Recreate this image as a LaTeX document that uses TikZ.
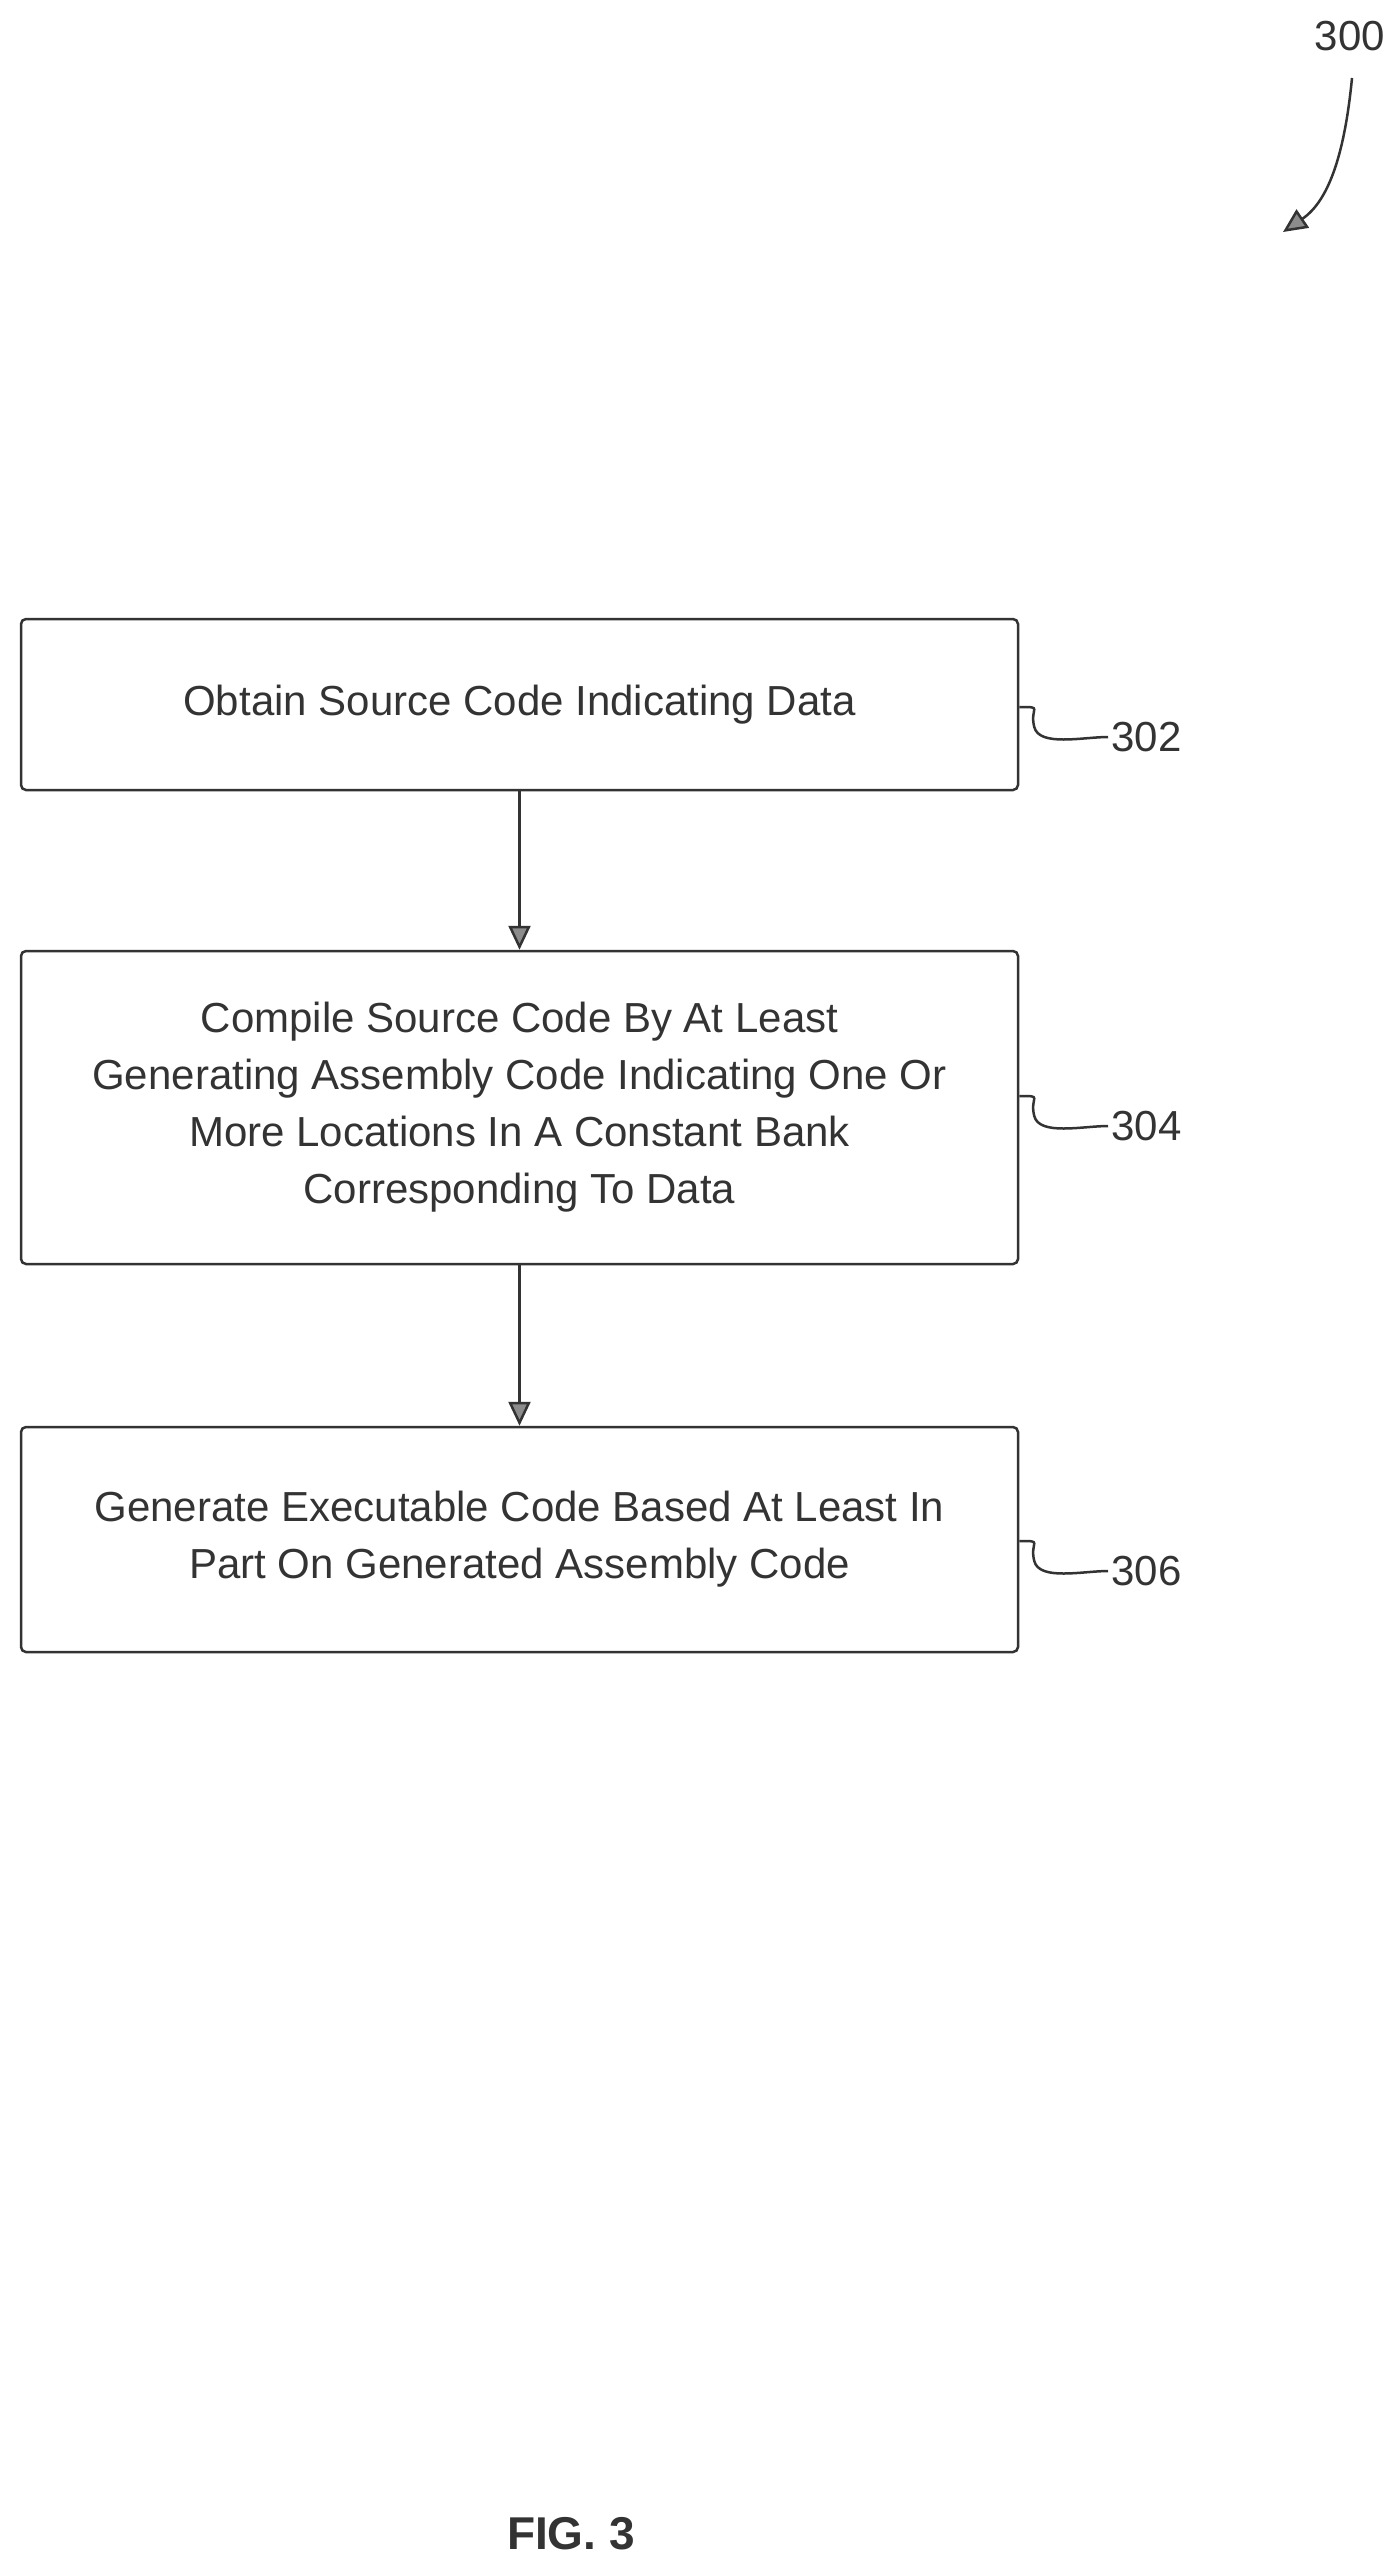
\documentclass[tikz,border=0pt]{standalone}
\usepackage{fontspec}
\setmainfont{Liberation Sans}
\usetikzlibrary{arrows.meta}
\begin{document}
\begin{tikzpicture}[x=1pt,y=-1pt,
  box/.style={draw=black!80,line width=2.5pt,rounded corners=5pt,align=center,font=\fontsize{42}{57}\selectfont,text=black!80,inner sep=0pt},
  lbl/.style={font=\fontsize{42}{50}\selectfont,text=black!80,anchor=west},
  arr/.style={draw=black!80,line width=2.5pt,-{Triangle[length=24pt,width=22pt,fill=black!45]}},
  sq/.style={draw=black!80,line width=2.5pt}]
\useasboundingbox (0,0) rectangle (1399,2556);
\node[box,minimum width=997pt,minimum height=171pt] (b1) at (519.5,704.5) {Obtain Source Code Indicating Data};
\node[box,minimum width=997pt,minimum height=313pt] (b2) at (519.5,1107.5) {Compile Source Code By At Least\\Generating Assembly Code Indicating One Or\\More Locations In A Constant Bank\\Corresponding To Data};
\node[box,minimum width=997pt,minimum height=225pt] (b3) at (519.5,1539.5) {Generate Executable Code Based At Least In\\Part On Generated Assembly Code};
\draw[arr] (b1.south) -- (b2.north);
\draw[arr] (b2.south) -- (b3.north);
\node[lbl] (l1) at (1108,737) {302};
\node[lbl] (l2) at (1108,1126) {304};
\node[lbl] (l3) at (1108,1571) {306};
\foreach \b/\l in {b1/l1,b2/l2,b3/l3}{
  \draw[sq] (\b.east |- \l.west) ++(0,-30) .. controls +(25,0) and +(-5,-20) .. ++(15,20) .. controls +(5,20) and +(-25,0) .. (\l.west);
}
\node[font=\fontsize{42}{50}\selectfont,text=black!80] (l0) at (1350,36) {300};
\coordinate (a0) at (1283,232);
\draw[arr] (1352,78) .. controls (1345,150) and (1330,200) .. (a0);
\node[font=\bfseries\fontsize{46}{55}\selectfont,text=black!80] (fig) at (571,2534) {FIG. 3};
\end{tikzpicture}
\end{document}
